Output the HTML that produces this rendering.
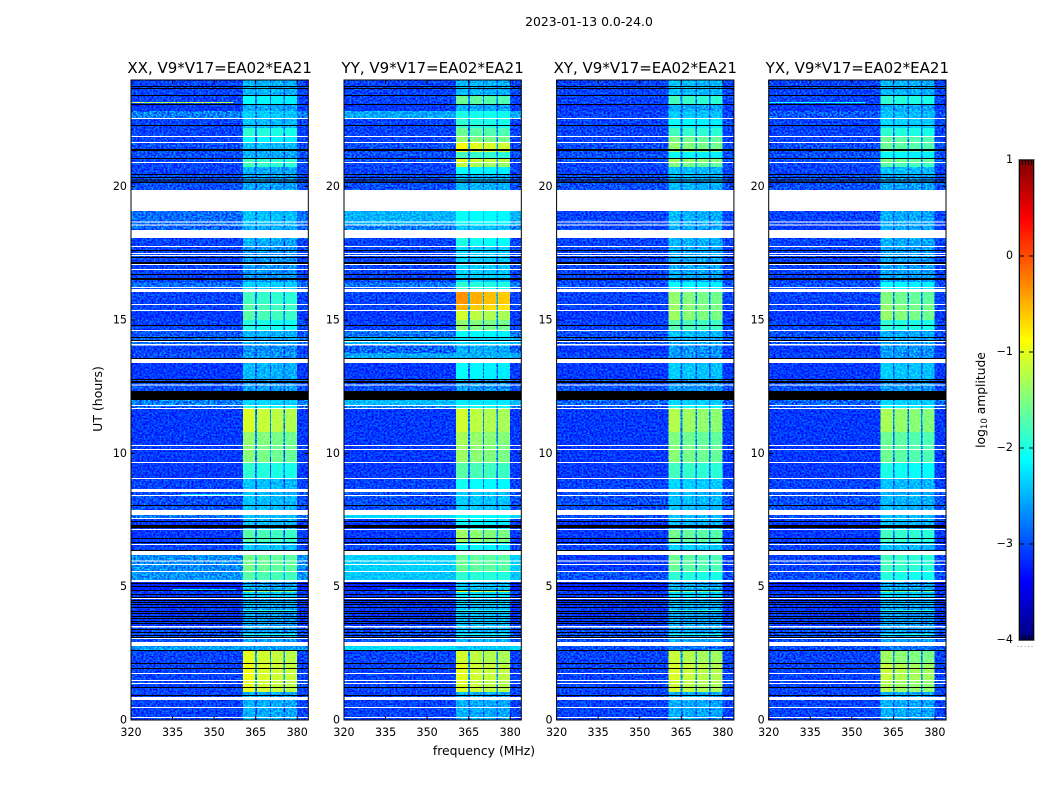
<!DOCTYPE html>
<html lang="en">
<head>
<meta charset="utf-8">
<title>2023-01-13 amplitude waterfall</title>
<style>
html,body{margin:0;padding:0;background:#fff;}
svg{display:block;isolation:isolate;}
text{font-family:"DejaVu Sans","Liberation Sans",sans-serif;fill:#000;}
.noise{mix-blend-mode:overlay;}
</style>
</head>
<body>
<svg id="chart" xmlns="http://www.w3.org/2000/svg" width="1050" height="800" viewBox="0 0 1050 800">
  <defs>
    <filter id="speckle-0" x="0" y="0" width="100%" height="100%" color-interpolation-filters="sRGB"><feTurbulence type="fractalNoise" baseFrequency="0.5 0.55" numOctaves="2" seed="3"/><feColorMatrix type="matrix" values="2.6 0 0 0 -0.8  2.6 0 0 0 -0.8  2.6 0 0 0 -0.8  0 0 0 0 1"/></filter>
    <filter id="speckle-1" x="0" y="0" width="100%" height="100%" color-interpolation-filters="sRGB"><feTurbulence type="fractalNoise" baseFrequency="0.5 0.55" numOctaves="2" seed="11"/><feColorMatrix type="matrix" values="2.6 0 0 0 -0.8  2.6 0 0 0 -0.8  2.6 0 0 0 -0.8  0 0 0 0 1"/></filter>
    <filter id="speckle-2" x="0" y="0" width="100%" height="100%" color-interpolation-filters="sRGB"><feTurbulence type="fractalNoise" baseFrequency="0.5 0.55" numOctaves="2" seed="23"/><feColorMatrix type="matrix" values="2.6 0 0 0 -0.8  2.6 0 0 0 -0.8  2.6 0 0 0 -0.8  0 0 0 0 1"/></filter>
    <filter id="speckle-3" x="0" y="0" width="100%" height="100%" color-interpolation-filters="sRGB"><feTurbulence type="fractalNoise" baseFrequency="0.5 0.55" numOctaves="2" seed="37"/><feColorMatrix type="matrix" values="2.6 0 0 0 -0.8  2.6 0 0 0 -0.8  2.6 0 0 0 -0.8  0 0 0 0 1"/></filter>
    <linearGradient id="jet-gradient" x1="0" y1="1" x2="0" y2="0"></linearGradient>
  </defs>
  <text x="589" y="26" text-anchor="middle" font-size="12.4">2023-01-13 0.0-24.0</text>
  <text x="484" y="755" text-anchor="middle" font-size="12.4">frequency (MHz)</text>
  <text transform="translate(102,399) rotate(-90)" text-anchor="middle" font-size="12.5">UT (hours)</text>
  <text transform="translate(985,400) rotate(-90)" text-anchor="middle" font-size="12.3">log<tspan font-size="8.6" dy="2">10</tspan><tspan dy="-2"> amplitude</tspan></text>
  <g id="panels"></g>
  <g id="colorbar"></g>
</svg>
<script>
// Panel titles
const panelTitles = ["XX, V9*V17=EA02*EA21", "YY, V9*V17=EA02*EA21", "XY, V9*V17=EA02*EA21", "YX, V9*V17=EA02*EA21"];

// Tick labels
const freqTicks = [320, 335, 350, 365, 380];
const utTicks = [0, 5, 10, 15, 20];
const colorTicks = [-4, -3, -2, -1, 0, 1];

// Frequency channels (MHz edges) and how strongly each follows the in-band level
const channelEdges = [320, 360.4, 364.8, 365.4, 370.1, 370.6, 375, 375.6, 379.9, 384];
const channelMix = [0, 1, 0.2, 0.95, 0.2, 0.92, 0.2, 0.9, 0];

// Time segment edges (UT hours), top to bottom
const utEdges = [24, 23.4, 23.06, 22.84, 22.54, 22.2, 21.86, 21.64, 21.3, 21.04, 20.89, 20.74, 20.475, 19.875, 19.09, 18.56, 18.375, 18.075, 17.74, 16.425, 16.2, 16.05, 15.56, 15.34, 15, 14.59, 14.325, 14.06, 13.76, 13.54, 13.39, 12.79, 12.3, 12, 11.81, 11.66, 10.8, 10.275, 9.64, 9.04, 8.66, 8.55, 7.875, 7.69, 7.575, 7.125, 6.64, 6.19, 5.55, 5.25, 5.175, 4.875, 4.8, 4.54, 3.49, 2.925, 2.775, 2.625, 2.59, 2.14, 1.5, 1.05, 0];

// log10 amplitude outside the bright band, one value per time segment
const offBandXX = [-3.05, -3.05, -3.1, -2.75, -3.05, -3.05, -3.05, -3, -3, -3, -3.05, -3.05, -3, -3, -2.85, -2.9, -3, -3.05, -3.05, -2.85, -3, -3.05, -3.05, -3.1, -3.05, -2.95, -2.85, -3.05, -3, -3, -3.1, -3, -3, -2.75, -2.9, -3.1, -3.1, -3.1, -3.1, -3.05, -3, -3, -3, -2.8, -3.1, -3.1, -3.05, -2.7, -2.65, -3, -3.2, -3.1, -3.1, -3.1, -3, -3, -2.6, -3, -3.05, -3.05, -3.05, -3.05];
const offBandYY = [-3.05, -3.05, -3.1, -2.55, -3.05, -3.05, -3.05, -3, -3, -3, -3.05, -3.05, -3, -3, -2.5, -2.75, -3, -3.05, -3.05, -2.8, -3, -3.05, -3.05, -3.1, -3.05, -2.8, -2.5, -2.9, -2.55, -3, -3.1, -3, -3, -2.45, -2.75, -3.1, -3.1, -3.1, -3.1, -3.05, -3, -3, -3, -2.3, -3.1, -3.1, -3.05, -2.35, -2.4, -3, -3.2, -3.1, -3.1, -3.1, -3, -3, -2.3, -3, -3.05, -3.05, -3.05, -3.05];
const offBandXY = [-3.05, -3.05, -3.1, -3.05, -3.05, -3.05, -3.05, -3, -3, -3, -3.05, -3.05, -3, -3, -3.05, -3.05, -3, -3.05, -3.05, -3, -3, -3.05, -3.05, -3.1, -3.05, -3, -2.95, -3.1, -3.05, -3, -3.1, -3, -3, -2.9, -3, -3.1, -3.1, -3.1, -3.1, -3.05, -3, -3, -3, -3, -3.1, -3.1, -3.05, -3.1, -3, -3, -3.2, -3.1, -3.1, -3.1, -3, -3, -3, -3, -3.05, -3.05, -3.05, -3.05];
const offBandYX = [-3.05, -3.05, -3.1, -2.95, -3.05, -3.05, -3.05, -3, -3, -3, -3.05, -3.05, -3, -3, -3.05, -3.1, -3, -3.05, -3.05, -3, -3, -3.05, -3.05, -3.1, -3.05, -3, -2.95, -3.1, -3.05, -3, -3.1, -3, -3, -2.9, -3, -3.1, -3.1, -3.1, -3.1, -3.05, -3, -3, -3, -3, -3.1, -3.1, -3.05, -3.05, -3, -3, -3.2, -3.1, -3.1, -3.1, -3, -3, -3, -3, -3.05, -3.05, -3.05, -3.05];

// log10 amplitude inside the bright band, one value per time segment
const inBandXX = [-2.45, -2.1, -2.5, -2.35, -2.4, -1.9, -2.1, -2.4, -2.5, -1.8, -1.8, -2.5, -2.55, -2.5, -2.4, -2.5, -2.5, -2.5, -2.6, -2.3, -2.3, -1.8, -1.7, -1.7, -1.95, -2.45, -2.5, -2.65, -2.6, -2.6, -2.45, -2.6, -2.6, -2.3, -2, -1.05, -1.4, -1.45, -1.9, -2.4, -2.4, -2.4, -2.4, -2.4, -2.4, -1.7, -2.35, -1.55, -1.7, -1.7, -2.55, -1.3, -2.3, -2.55, -2.55, -2.4, -2.6, -2.6, -1, -0.95, -1, -2.5];
const inBandYY = [-2.45, -1.6, -2.5, -2, -1.9, -1.6, -1.4, -0.9, -1.8, -1, -1.2, -2.1, -2.45, -2.5, -2.1, -2.4, -2.4, -2, -2.3, -1.9, -1.9, -0.35, -0.5, -1.1, -1.4, -2.1, -2.3, -2.5, -2.5, -2.5, -2.1, -2.6, -2.6, -2.2, -2, -1.1, -1.3, -1.35, -1.7, -2.05, -2.35, -2.35, -2.35, -2.1, -2.1, -1.35, -2.1, -1.6, -1.9, -1.9, -2.4, -1, -2.2, -2.4, -2.45, -2.3, -2.4, -2.4, -1.1, -1, -1.05, -2.5];
const inBandXY = [-2.4, -1.8, -2.5, -2.35, -2.1, -1.8, -1.5, -1.4, -2.1, -1.3, -1.5, -2.4, -2.45, -2.5, -2.45, -2.5, -2.5, -2.45, -2.5, -2.1, -2.1, -1.4, -1.35, -1.35, -1.7, -2.4, -2.5, -2.6, -2.6, -2.6, -2.35, -2.6, -2.6, -2.3, -2, -1.25, -1.5, -1.45, -1.8, -2.3, -2.4, -2.4, -2.4, -2.4, -2.4, -1.55, -2.3, -1.6, -1.9, -1.9, -2.5, -1.4, -2.25, -2.5, -2.5, -2.4, -2.8, -2.8, -1.15, -1.05, -1.1, -2.5];
const inBandYX = [-2.45, -1.9, -2.5, -2.4, -2.3, -1.9, -1.6, -1.6, -2.1, -1.5, -1.7, -2.4, -2.55, -2.5, -2.5, -2.5, -2.5, -2.5, -2.55, -2.1, -2.1, -1.5, -1.4, -1.4, -1.9, -2.5, -2.5, -2.6, -2.6, -2.6, -2.35, -2.6, -2.6, -2.3, -2.1, -1.3, -1.6, -1.6, -2, -2.4, -2.45, -2.45, -2.45, -2.4, -2.4, -1.8, -2.4, -1.8, -1.95, -1.95, -2.55, -1.5, -2.3, -2.55, -2.55, -2.4, -2.8, -2.8, -1.35, -1.15, -1.25, -2.5];

// Narrow interference features: polarisation, UT start, UT end, MHz start, MHz end, log10 amplitude
const rfiPanel = [0, 3, 0, 0, 1];
const rfiUtHigh = [23.175, 23.175, 8.475, 4.91, 4.91];
const rfiUtLow = [23.14, 23.14, 8.44, 4.875, 4.875];
const rfiFreqLow = [320, 320, 338, 335, 335];
const rfiFreqHigh = [357, 355, 362, 358, 358];
const rfiLevel = [-1.2, -2, -2.3, -2.3, -2.3];

// Short in-band brightenings in the striped 3-5 UT stretch: UT high, UT low, log10 amplitude
const bandLineHigh = [5.0, 4.36, 4.12, 3.71, 3.52, 3.22];
const bandLineLow = [4.96, 4.32, 4.08, 3.67, 3.48, 3.18];
const bandLineLevel = [-1.9, -1.9, -2, -1.8, -1.6, -2];

// Flagged integrations shown white (no data): UT high, UT low
const whiteHigh = [22.575, 21.9, 21.675, 20.925, 19.875, 18.69, 18.58, 18.375, 17.775, 17.51, 17.44, 17.1, 16.91, 16.24, 16.16, 15.6, 15.375, 14.625, 14.21, 14.1, 13.54, 12.58, 11.81, 11.7, 10.31, 10.16, 9.675, 9.075, 8.66, 8.44, 7.875, 7.575, 7.16, 6.6, 6.34, 5.98, 5.85, 5.59, 5.25, 4.575, 3.525, 3.075, 2.925, 1.76, 1.5, 1.39, 0.86, 0.49, 0.11];
const whiteLow = [22.54, 21.86, 21.64, 20.89, 19.09, 18.66, 18.54, 18.075, 17.74, 17.475, 17.4, 17.06, 16.875, 16.2, 16.05, 15.56, 15.34, 14.59, 14.175, 14.04, 13.39, 12.54, 11.775, 11.66, 10.275, 10.125, 9.64, 9.04, 8.55, 8.4, 7.69, 7.54, 7.125, 6.56, 6.19, 5.94, 5.81, 5.55, 5.175, 4.54, 3.47, 3.04, 2.775, 1.725, 1.46, 1.35, 0.75, 0.45, 0.075];

// Integrations shown black: UT high, UT low
const blackHigh = [23.775, 23.7, 23.44, 23.1, 22.31, 21.41, 21.075, 20.475, 20.36, 20.27, 20.19, 17.625, 17.36, 17.175, 16.725, 16.575, 14.81, 14.36, 14.25, 13.575, 12.79, 12.71, 12.34, 8.06, 7.46, 7.31, 6.825, 6.675, 6.375, 5.14, 5.025, 4.875, 4.725, 4.61, 4.5, 4.425, 4.35, 4.24, 4.09, 4.01, 3.9, 3.825, 3.71, 3.64, 3.41, 3.3, 3.19, 3.11, 2.625, 2.14, 1.95, 1.24, 0.94];
const blackLow = [23.74, 23.66, 23.4, 23.06, 22.275, 21.34, 21.04, 20.44, 20.325, 20.23, 20.14, 17.59, 17.325, 17.1, 16.69, 16.5, 14.775, 14.325, 14.21, 13.54, 12.75, 12.64, 12, 8.025, 7.425, 7.2, 6.79, 6.64, 6.34, 5.1, 4.99, 4.84, 4.69, 4.575, 4.46, 4.39, 4.31, 4.2, 4.05, 3.975, 3.86, 3.79, 3.675, 3.6, 3.375, 3.26, 3.15, 3.075, 2.59, 2.1, 1.91, 1.2, 0.9];

const offBandSeries = [offBandXX, offBandYY, offBandXY, offBandYX];
const inBandSeries = [inBandXX, inBandYY, inBandXY, inBandYX];

const SVG_NS = "http://www.w3.org/2000/svg";
const panelLefts = [131, 344, 556.6, 768.7];
const panelWidth = 177.3;
const plotTop = 80;
const plotBottom = 720;

function xScale(panel, mhz) { return panelLefts[panel] + (mhz - 320) / 64 * panelWidth; }
function yScale(ut) { return plotBottom - ut / 24 * (plotBottom - plotTop); }
function cbScale(v) { return 640 - (v + 4) / 5 * 480; }
function clamp01(v) { return Math.max(0, Math.min(1, v)); }
function jet(v) {
  const t = clamp01((v + 4) / 5);
  const r = clamp01(1.5 - Math.abs(4 * t - 3));
  const g = clamp01(1.5 - Math.abs(4 * t - 2));
  const b = clamp01(1.5 - Math.abs(4 * t - 1));
  return "rgb(" + Math.round(r * 255) + "," + Math.round(g * 255) + "," + Math.round(b * 255) + ")";
}
function make(tag, attrs, parent) {
  const el = document.createElementNS(SVG_NS, tag);
  for (const k in attrs) el.setAttribute(k, attrs[k]);
  parent.appendChild(el);
  return el;
}

const panelsRoot = document.getElementById("panels");

panelTitles.forEach(function (title, p) {
  const g = make("g", {}, panelsRoot);
  
  

  const cells = make("g", {"shape-rendering": "crispEdges"}, g);
  
  

  for (let s = 0; s < utEdges.length - 1; s++) {
    for (let c = 0; c < channelMix.length; c++) {
      const off = offBandSeries[p][s];
      const level = off + channelMix[c] * (inBandSeries[p][s] - off);
      const rect = make("rect", {
        x: xScale(p, channelEdges[c]),
        y: yScale(utEdges[s]),
        width: xScale(p, channelEdges[c + 1]) - xScale(p, channelEdges[c]),
        height: yScale(utEdges[s + 1]) - yScale(utEdges[s]),
        fill: jet(level)
      }, cells);
      
      
    }
  }

  rfiPanel.forEach(function (target, i) {
    if (target !== p) return;
    const rect = make("rect", {
      x: xScale(p, rfiFreqLow[i]),
      y: yScale(rfiUtHigh[i]),
      width: xScale(p, rfiFreqHigh[i]) - xScale(p, rfiFreqLow[i]),
      height: yScale(rfiUtLow[i]) - yScale(rfiUtHigh[i]),
      fill: jet(rfiLevel[i])
    }, cells);
    
    
  });

  const texture = make("rect", {
    x: panelLefts[p], y: plotTop, width: panelWidth, height: plotBottom - plotTop,
    fill: "#808080", filter: "url(#speckle-" + p + ")", "class": "noise"
  }, g);
  
  

  // Stronger signal has less relative scatter: veil the speckle over brighter cells
  const veil = make("g", {"shape-rendering": "crispEdges"}, g);
  
  
  for (let s = 0; s < utEdges.length - 1; s++) {
    for (let c = 0; c < channelMix.length; c++) {
      const off = offBandSeries[p][s];
      const level = off + channelMix[c] * (inBandSeries[p][s] - off);
      if (level <= -2.9) continue;
      const rect = make("rect", {
        x: xScale(p, channelEdges[c]),
        y: yScale(utEdges[s]),
        width: xScale(p, channelEdges[c + 1]) - xScale(p, channelEdges[c]),
        height: yScale(utEdges[s + 1]) - yScale(utEdges[s]),
        fill: jet(level),
        opacity: level > -2.05 ? 0.8 : 0.25
      }, veil);
      
      
    }
  }

  bandLineHigh.forEach(function (hi, i) {
    const rect = make("rect", {
      x: xScale(p, channelEdges[1]),
      y: yScale(hi),
      width: xScale(p, channelEdges[8]) - xScale(p, channelEdges[1]),
      height: yScale(bandLineLow[i]) - yScale(hi),
      fill: jet(bandLineLevel[i]),
      "shape-rendering": "crispEdges"
    }, g);
    
    
  });

  const flags = make("g", {"shape-rendering": "crispEdges"}, g);
  
  
  whiteHigh.forEach(function (hi, i) {
    const rect = make("rect", {
      x: panelLefts[p], y: yScale(hi), width: panelWidth,
      height: yScale(whiteLow[i]) - yScale(hi), fill: "#fff"
    }, flags);
    
    
  });
  blackHigh.forEach(function (hi, i) {
    const rect = make("rect", {
      x: panelLefts[p], y: yScale(hi), width: panelWidth,
      height: yScale(blackLow[i]) - yScale(hi), fill: "#000"
    }, flags);
    
    
  });

  const frame = make("rect", {
    x: panelLefts[p], y: plotTop, width: panelWidth, height: plotBottom - plotTop,
    fill: "none", stroke: "#000", "stroke-width": 1
  }, g);
  
  

  const titleEl = make("text", {
    x: panelLefts[p] + panelWidth / 2, y: 73, "text-anchor": "middle", "font-size": 15
  }, g);
  
  
  titleEl.textContent = title;

  freqTicks.forEach(function (f) {
    const x = xScale(p, f);
    const bottomTick = make("line", {x1: x, x2: x, y1: plotBottom, y2: plotBottom - 4, stroke: "#000"}, g);
    
    
    const topTick = make("line", {x1: x, x2: x, y1: plotTop, y2: plotTop + 4, stroke: "#000"}, g);
    
    
    const label = make("text", {x: x, y: 736, "text-anchor": "middle", "font-size": 11.1}, g);
    
    
    label.textContent = f;
  });

  utTicks.forEach(function (u) {
    const y = yScale(u);
    const leftTick = make("line", {x1: panelLefts[p], x2: panelLefts[p] + 4, y1: y, y2: y, stroke: "#000"}, g);
    
    
    const rightTick = make("line", {x1: panelLefts[p] + panelWidth, x2: panelLefts[p] + panelWidth - 4, y1: y, y2: y, stroke: "#000"}, g);
    
    
    const label = make("text", {x: panelLefts[p] - 4, y: y + 3.5, "text-anchor": "end", "font-size": 11.1}, g);
    
    
    label.textContent = u;
  });
});

// Colorbar
const cbRoot = document.getElementById("colorbar");
const gradient = document.getElementById("jet-gradient");
for (let i = 0; i <= 40; i++) {
  make("stop", {offset: (i / 40), "stop-color": jet(-4 + i / 40 * 5)}, gradient);
}
const cbOuter = make("rect", {x: 1018.5, y: 159.5, width: 16, height: 481, fill: "none", stroke: "#b0b0b0"}, cbRoot);


const cbBar = make("rect", {x: 1019.5, y: cbScale(1), width: 14, height: cbScale(-4) - cbScale(1), fill: "url(#jet-gradient)", stroke: "#000"}, cbRoot);


colorTicks.forEach(function (v) {
  const y = cbScale(v);
  const tickLeft = make("line", {x1: 1020, x2: 1024, y1: y, y2: y, stroke: "#000"}, cbRoot);
  
  
  const tickRight = make("line", {x1: 1029, x2: 1034, y1: y, y2: y, stroke: "#000"}, cbRoot);
  
  
  const label = make("text", {x: 1013, y: y + 3, "text-anchor": "end", "font-size": 11.1}, cbRoot);
  
  
  label.textContent = v < 0 ? "\u2212" + Math.abs(v) : String(v);
});
for (let k = 1; k <= 4; k++) {
  const x = 1019.5 + k * 3;
  const minorTop = make("line", {x1: x, x2: x, y1: 160, y2: 165, stroke: "#000"}, cbRoot);
  
  
  const minorBottom = make("line", {x1: x, x2: x, y1: 635, y2: 640, stroke: "#000"}, cbRoot);
  
  
}
const cbDots = make("line", {x1: 1017.5, x2: 1035, y1: 646.5, y2: 646.5, stroke: "#999", "stroke-dasharray": "1 2.5"}, cbRoot);


</script>
</body>
</html>
